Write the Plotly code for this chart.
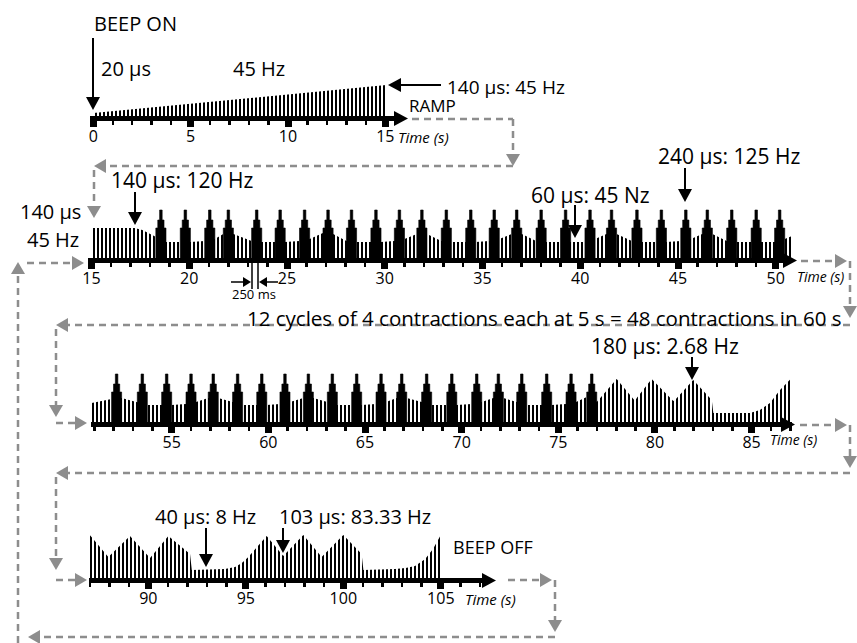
import plotly.graph_objects as go

W, H = 857, 643
FONT = "Open Sans"
GRAY = "#8d8d8d"

# ---------------- data ----------------
# Row 1: pulse-width ramp (time s, drawn pulse amplitude)
row1_env_t = [0.0, 15.05]
row1_env_h = [3, 31]
row1_ticks = [0, 5, 10, 15]

# contraction spike profile (levels of the stepped spike)
spike_levels = [30, 38, 48]

# Row 2
row2_head_t = [15.0, 17.2, 17.6, 18.0, 18.29]
row2_head_h = [30, 30, 28, 24, 21]
row2_spike_t = [18.55, 19.8, 21.05, 22.0, 23.45, 24.65, 25.9, 27.1, 28.3, 29.55,
                30.75, 31.9, 33.15, 34.4, 35.6, 36.75, 38.0, 39.25, 40.5, 41.6,
                42.9, 44.15, 45.4, 46.5, 47.75, 49.0, 50.2]
row2_gap_h0 = [16, 16, 19, 24, 16, 16, 19, 24, 16, 16, 19, 24, 16, 16, 19, 24,
               16, 16, 19, 24, 16, 16, 19, 24, 16, 16]
row2_gap_h1 = [16, 17, 24, 17, 16, 17, 25, 17, 16, 17, 24, 17, 16, 17, 24, 17,
               16, 16, 24, 17, 16, 17, 24, 17, 16, 16]
row2_tail_t = [50.46, 50.83]
row2_tail_h = [19, 22]
row2_ticks = [15, 20, 25, 30, 35, 40, 45, 50]

# Row 3
row3_head_t = [50.86, 51.89]
row3_head_h = [19, 23]
row3_spike_t = [52.15, 53.48, 54.74, 56.0, 57.15, 58.41, 59.66, 60.86, 62.07, 63.31,
                64.57, 65.83, 66.9, 68.19, 69.49, 70.78, 71.9, 73.11, 74.4, 75.66, 76.73]
row3_gap_h0 = [24, 17, 17, 20, 24, 17, 17, 20, 24, 17, 17, 20, 24, 17, 17, 20,
               24, 17, 17, 20]
row3_gap_h1 = [20, 17, 18, 24, 20, 17, 18, 24, 20, 17, 18, 24, 20, 17, 18, 24,
               20, 17, 18, 25]
row3_tail_t = [76.99, 78.02, 78.97, 79.06, 79.83, 80.95, 81.04, 81.98, 82.94, 83.02,
               84.92, 85.43, 85.95, 86.47, 87.07]
row3_tail_h = [20, 43, 21, 24, 43, 21, 22, 42, 22, 9, 9, 12, 19, 32, 44]
row3_ticks = [55, 60, 65, 70, 75, 80, 85]

# Row 4
row4_env_t = [87.0, 87.95, 89.06, 90.09, 91.03, 92.14, 92.23, 93.93, 94.45, 94.8,
              95.13, 96.07, 96.92, 97.95, 98.89, 100.0, 100.94, 101.03, 102.65, 103.2,
              103.68, 104.2, 104.6, 105.0]
row4_env_h = [43, 21, 42, 20, 42, 24, 8, 9, 11, 15, 21, 42, 22, 43, 21, 43, 24, 8, 9, 10,
              12, 19, 29, 43]
row4_ticks = [90, 95, 100, 105]

# ---------------- layout constants (pixel geometry) ----------------
ROWS = [
    dict(t_ref=0, px_ref=93.3, pps=19.47, base=116, x0=90, x1=396, tip=408),
    dict(t_ref=15, px_ref=91.5, pps=19.55, base=258, x0=88, x1=792, tip=797),
    dict(t_ref=55, px_ref=171.7, pps=19.33, base=422, x0=91, x1=792, tip=795),
    dict(t_ref=90, px_ref=148.3, pps=19.5, base=578, x0=89, x1=484, tip=496),
]
YSPAN = 62
LW_S, MW_S, NW_S = 0.26, 0.16, 0.065   # spike half widths (s)


def X(px):
    return px / W


def Y(py):
    return 1 - py / H


def spike_polys(times):
    l1, l2, l3 = spike_levels
    prof = [(-LW_S, 0), (-LW_S, l1), (-MW_S, l1), (-MW_S, l2), (-NW_S, l2), (-NW_S, l3),
            (NW_S, l3), (NW_S, l2), (MW_S, l2), (MW_S, l1), (LW_S, l1), (LW_S, 0)]
    xs, ys = [], []
    for c in times:
        for dx, yy in prof:
            xs.append(c + dx)
            ys.append(yy)
        xs.append(None)
        ys.append(None)
    return xs, ys


def envelope(head_t, head_h, spikes, h0, h1, tail_t, tail_h):
    t, h = list(head_t), list(head_h)
    for i in range(len(spikes) - 1):
        t += [spikes[i] + LW_S, spikes[i + 1] - LW_S]
        h += [h0[i], h1[i]]
    return t + list(tail_t), h + list(tail_h)


fig = go.Figure()
PATTERN = dict(shape="|", fgcolor="black", bgcolor="white", size=4, solidity=0.5, fgopacity=1)


def add_env(t, h, k):
    fig.add_trace(go.Scatter(
        x=t, y=h, xaxis="x" if k == 1 else f"x{k}", yaxis="y" if k == 1 else f"y{k}",
        mode="lines", line=dict(width=0, color="black"), fill="tozeroy",
        fillcolor="white", fillpattern=PATTERN, hoverinfo="skip", showlegend=False))


def add_spikes(times, k):
    xs, ys = spike_polys(times)
    fig.add_trace(go.Scatter(
        x=xs, y=ys, xaxis=f"x{k}", yaxis=f"y{k}", mode="lines", fill="toself",
        fillcolor="black", line=dict(width=0.6, color="black"),
        hoverinfo="skip", showlegend=False))


add_env(row1_env_t, row1_env_h, 1)
t2, h2 = envelope(row2_head_t, row2_head_h, row2_spike_t, row2_gap_h0, row2_gap_h1,
                  row2_tail_t, row2_tail_h)
add_env(t2, h2, 2)
add_spikes(row2_spike_t, 2)
t3, h3 = envelope(row3_head_t, row3_head_h, row3_spike_t, row3_gap_h0, row3_gap_h1,
                  row3_tail_t, row3_tail_h)
add_env(t3, h3, 3)
add_spikes(row3_spike_t, 3)
add_env(row4_env_t, row4_env_h, 4)

ticks = [row1_ticks, row2_ticks, row3_ticks, row4_ticks]
layout = {}
for i, r in enumerate(ROWS):
    k = "" if i == 0 else str(i + 1)
    t_a = r["t_ref"] + (r["x0"] - r["px_ref"]) / r["pps"]
    t_b = r["t_ref"] + (r["x1"] - r["px_ref"]) / r["pps"]
    layout[f"xaxis{k}"] = dict(
        domain=[X(r["x0"]), X(r["x1"])], range=[t_a, t_b], anchor=f"y{k}",
        showline=True, linewidth=5, linecolor="black", showgrid=False, zeroline=False,
        ticks="outside", ticklen=6, tickwidth=7, tickcolor="black",
        tickmode="array", tickvals=ticks[i], automargin=False, fixedrange=True,
        ticklabelstandoff=-4,
        tickfont=dict(family=FONT, size=16, color="black"),
        minor=dict(dtick=1, tick0=0, ticks="outside", ticklen=4, tickwidth=2.5,
                   tickcolor="black", showgrid=False))
    layout[f"yaxis{k}"] = dict(
        domain=[Y(r["base"]), Y(r["base"] - YSPAN)], range=[0, YSPAN], anchor=f"x{k}",
        visible=False, fixedrange=True)

shapes = []


def tri(tx, ty, d, L, hw, color):
    if d == "d":
        pts = [(tx, ty), (tx - hw, ty - L), (tx + hw, ty - L)]
    elif d == "u":
        pts = [(tx, ty), (tx - hw, ty + L), (tx + hw, ty + L)]
    elif d == "r":
        pts = [(tx, ty), (tx - L, ty - hw), (tx - L, ty + hw)]
    else:
        pts = [(tx, ty), (tx + L, ty - hw), (tx + L, ty + hw)]
    path = "M " + " L ".join(f"{X(a):.5f},{Y(b):.5f}" for a, b in pts) + " Z"
    shapes.append(dict(type="path", xref="paper", yref="paper", path=path,
                       fillcolor=color, line=dict(width=0), layer="above"))


def seg(x0, y0, x1, y1, color, width, dash="solid"):
    shapes.append(dict(type="line", xref="paper", yref="paper", x0=X(x0), y0=Y(y0),
                       x1=X(x1), y1=Y(y1), line=dict(color=color, width=width, dash=dash),
                       layer="above"))


# axis arrowheads
for r in ROWS:
    tri(r["tip"], r["base"] + 2.5, "r", 14, 7.5, "black")

# black pointer arrows: (x0, y0, x1(tip), y1(tip))
black_arrows = [
    (93, 38, 93, 110), (441, 85, 388, 85), (135, 192, 135, 225), (575, 205, 575, 238),
    (685, 168, 685, 202), (692, 357, 692, 380), (206, 528, 206, 567), (283, 528, 283, 553),
]
for x0, y0, x1, y1 in black_arrows:
    L = 13
    if x0 == x1:
        d = "d" if y1 > y0 else "u"
        seg(x0, y0, x1, y1 - L if d == "d" else y1 + L, "black", 2)
    else:
        d = "r" if x1 > x0 else "l"
        seg(x0, y0, x1 - L if d == "r" else x1 + L, y1, "black", 2)
    tri(x1, y1, d, L, 7, "black")

# 250 ms marker
seg(252, 259, 252, 289, "black", 1.5)
seg(258, 259, 258, 289, "black", 1.5)
seg(231, 282, 244, 282, "black", 1.5)
tri(251, 282, "r", 8, 5, "black")
seg(278, 282, 267, 282, "black", 1.5)
tri(259, 282, "l", 8, 5, "black")

# gray dashed flow connectors
DASH = "7px,5px"
gray_lines = [
    (412, 119, 513, 119), (513, 119, 513, 155), (513, 166, 105, 166), (94, 170, 94, 206),
    (801, 261, 835, 261), (850, 261, 850, 306), (850, 325, 68, 325), (56, 329, 56, 405),
    (56, 423, 75, 423),
    (800, 425, 835, 425), (850, 425, 850, 456), (850, 473, 68, 473), (56, 477, 56, 558),
    (56, 580, 75, 580),
    (508, 580, 540, 580), (555, 580, 555, 620), (555, 637, 40, 637), (18, 643, 18, 274),
    (27, 263, 72, 263),
]
for x0, y0, x1, y1 in gray_lines:
    seg(x0, y0, x1, y1, GRAY, 2.5, DASH)
gray_heads = [
    (513, 166, "d"), (94, 166, "l"), (94, 218, "d"),
    (847, 261, "r"), (850, 318, "d"), (56, 325, "l"), (56, 417, "d"), (87, 423, "r"),
    (847, 425, "r"), (850, 468, "d"), (56, 473, "l"), (56, 570, "d"), (87, 580, "r"),
    (552, 580, "r"), (555, 632, "d"), (28, 637, "l"), (18, 262, "u"), (84, 263, "r"),
]
for tx, ty, d in gray_heads:
    tri(tx, ty, d, 12, 7, GRAY)

# texts: (text, x, y, size, xanchor)
texts = [
    ("BEEP ON", 92, 23, 20, "left"),
    ("20 µs", 99, 68, 20, "left"),
    ("45 Hz", 231, 68, 20, "left"),
    ("140 µs: 45 Hz", 445, 87, 19, "left"),
    ("RAMP", 407, 105, 17, "left"),
    ("140 µs: 120 Hz", 109, 180, 21, "left"),
    ("140 µs", 18, 211, 20, "left"),
    ("45 Hz", 25, 240, 20, "left"),
    ("60 µs: 45 Nz", 529, 195, 21, "left"),
    ("240 µs: 125 Hz", 656, 156, 21, "left"),
    ("250 ms", 254, 294, 13, "center"),
    ("12 cycles of 4 contractions each at 5 s = 48 contractions in 60 s", 245, 318.5, 20.5, "left"),
    ("180 µs: 2.68 Hz", 589, 346, 21, "left"),
    ("40 µs: 8 Hz", 153, 516, 20, "left"),
    ("103 µs: 83.33 Hz", 277, 516, 20, "left"),
    ("BEEP OFF", 451, 547, 18, "left"),
]
annotations = []
for txt, x, y, s, xa in texts:
    annotations.append(dict(text=txt, x=X(x), y=Y(y), xref="paper", yref="paper",
                            xanchor=xa, yanchor="middle", showarrow=False,
                            font=dict(family=FONT, size=s, color="black")))
for x, y, s in [(396, 137, 15), (795, 276, 14), (768, 439, 14), (463, 599, 15)]:
    annotations.append(dict(text="<i>Time (s)</i>", x=X(x), y=Y(y), xref="paper", yref="paper",
                            xanchor="left", yanchor="middle", showarrow=False,
                            font=dict(family=FONT, size=s, color="black")))

fig.update_layout(
    width=W, height=H, margin=dict(l=0, r=0, t=0, b=0, pad=0),
    paper_bgcolor="white", plot_bgcolor="rgba(0,0,0,0)",
    showlegend=False, shapes=shapes, annotations=annotations, **layout)

fig.write_html("out.html", config={"displayModeBar": False, "staticPlot": True},
               post_script="document.body.style.margin='0px';"
                           "document.body.style.overflow='hidden';")
